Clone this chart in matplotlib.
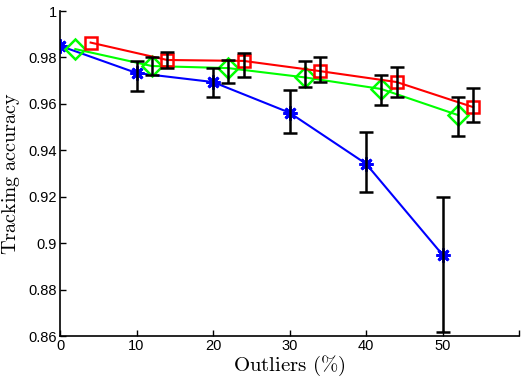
import numpy as np
import matplotlib.pyplot as plt

plt.rcParams['mathtext.fontset'] = 'cm'
plt.rcParams['font.family'] = ['Liberation Sans', 'DejaVu Sans']

# outlier percentage (series are shifted by 2 so the bars don't overlap)
x_blue = [0, 10, 20, 30, 40, 50]
x_green = [2, 12, 22, 32, 42, 52]
x_red = [4, 14, 24, 34, 44, 54]

acc_blue = [0.985, 0.9733, 0.9694, 0.9562, 0.9342, 0.8950]
acc_green = [0.9836, 0.9763, 0.9754, 0.9714, 0.9664, 0.9552]
acc_red = [0.9864, 0.9789, 0.9785, 0.9741, 0.9694, 0.9586]

# error bar ends (first point has no bar)
hi_blue = [np.nan, 0.9785, 0.9754, 0.9660, 0.9480, 0.9200]
lo_blue = [np.nan, 0.9655, 0.9630, 0.9474, 0.9222, 0.8617]
hi_green = [np.nan, 0.9800, 0.9790, 0.9785, 0.9726, 0.9630]
lo_green = [np.nan, 0.9724, 0.9690, 0.9673, 0.9597, 0.9463]
hi_red = [np.nan, 0.9823, 0.9820, 0.9802, 0.9760, 0.9668]
lo_red = [np.nan, 0.9754, 0.9716, 0.9694, 0.9630, 0.9520]

fig = plt.figure(figsize=(5.32, 3.82), dpi=100)
ax = fig.add_axes([0.1128, 0.1204, 0.8628, 0.8508])

ax.plot(x_blue, acc_blue, color='#0000ff', lw=1.5, marker=(8, 2, 0), ms=10, mew=2, zorder=2)
ax.plot(x_green, acc_green, color='#00ff00', lw=1.5, marker='D', ms=10, mfc='none', mew=1.8, zorder=2)
ax.plot(x_red, acc_red, color='#ff0000', lw=1.5, marker='s', ms=8, mfc='none', mew=1.8, zorder=2)

for xs, ys, hi, lo in [(x_blue, acc_blue, hi_blue, lo_blue),
                       (x_green, acc_green, hi_green, lo_green),
                       (x_red, acc_red, hi_red, lo_red)]:
    ys = np.array(ys)
    err = [ys - np.array(lo), np.array(hi) - ys]
    ax.errorbar(xs, ys, yerr=err, fmt='none', ecolor='black', elinewidth=1.8,
                capsize=5, capthick=1.8, zorder=3)

ax.set_xlim(0, 60)
ax.set_ylim(0.86, 1.0)
ax.set_xticks([0, 10, 20, 30, 40, 50, 60])
ax.set_xticklabels(['0', '10', '20', '30', '40', '50', ''])
ax.set_yticks([0.86, 0.88, 0.9, 0.92, 0.94, 0.96, 0.98, 1.0])
ax.set_yticklabels(['0.86', '0.88', '0.9', '0.92', '0.94', '0.96', '0.98', '1'])
ax.tick_params(direction='in', length=4, width=1, labelsize=10.5, pad=2)
for s in ['top', 'right']:
    ax.spines[s].set_visible(False)
for s in ['left', 'bottom']:
    ax.spines[s].set_linewidth(1.2)

ax.set_xlabel(r'$\mathrm{Outliers\ (\%)}$', fontsize=15, labelpad=1)
ax.set_ylabel(r'$\mathrm{Tracking\ accuracy}$', fontsize=14.5, labelpad=5)

fig.savefig('out.png', dpi=100)
